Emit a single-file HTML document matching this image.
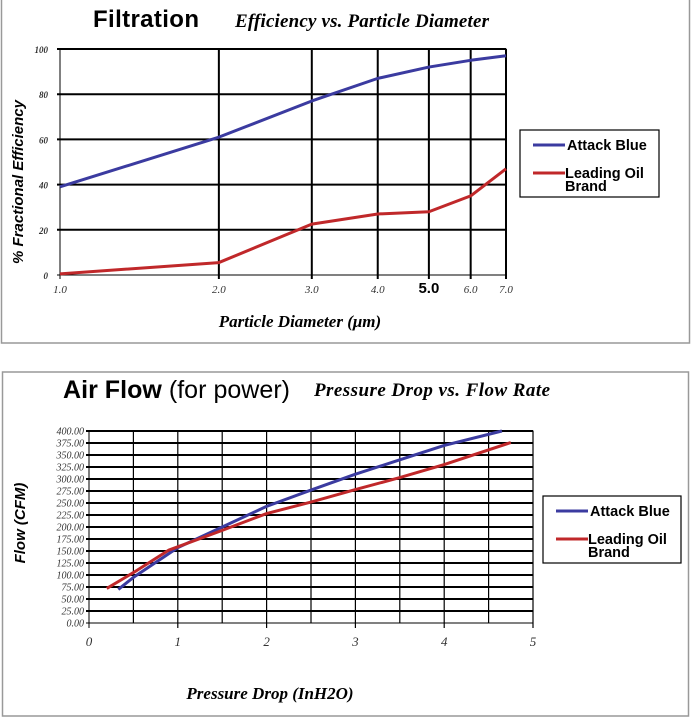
<!DOCTYPE html>
<html><head><meta charset="utf-8"><style>
body{margin:0;background:#fff;width:692px;height:719px;overflow:hidden}
svg{display:block}
.tk{font-family:"Liberation Serif",serif;font-style:italic;font-size:11px;fill:#333}
.ttl{font-family:"Liberation Serif",serif;font-style:italic;font-weight:bold;font-size:17px}
.lg{font-family:"Liberation Sans",sans-serif;font-weight:bold;font-size:14.5px}
</style></head><body>
<svg id="s" width="692" height="719">
<rect x="1.5" y="-2" width="688" height="345" fill="none" stroke="#999" stroke-width="1.5"/>
<rect x="2.5" y="372" width="686" height="344" fill="none" stroke="#999" stroke-width="1.5"/>
<text x="93" y="27" font-family="Liberation Sans,sans-serif" font-weight="bold" font-size="24" textLength="106">Filtration</text>
<text x="235" y="27" class="ttl" style="font-size:19px" textLength="254">Efficiency vs. Particle Diameter</text>
<text x="300" y="327" class="ttl" text-anchor="middle">Particle Diameter (μm)</text>
<text transform="translate(23,182) rotate(-90)" text-anchor="middle" font-family="Liberation Sans,sans-serif" font-style="italic" font-weight="bold" font-size="15">% Fractional Efficiency</text>
<text x="63" y="398" font-family="Liberation Sans,sans-serif" font-size="25" textLength="227"><tspan font-weight="bold">Air Flow</tspan> (for power)</text>
<text x="314" y="396" class="ttl" style="font-size:19px" textLength="236">Pressure Drop vs. Flow Rate</text>
<text x="270" y="699" class="ttl" font-size="14" text-anchor="middle">Pressure Drop (InH2O)</text>
<text transform="translate(25,523) rotate(-90)" text-anchor="middle" font-family="Liberation Sans,sans-serif" font-style="italic" font-weight="bold" font-size="15">Flow (CFM)</text>
<g id="c1"></g><g id="c2"></g>
</svg>
<script>
const fxVals=[1,2,3,4,5,6,7];
const fxLabels=["1.0","2.0","3.0","4.0","5.0","6.0","7.0"];
const fyTicks=[0,20,40,60,80,100];
const fBlue=[39,61,77,87,92,95,97];
const fRed=[0.5,5.5,22.5,27,28,35,47];
const axVals=[0,0.5,1,1.5,2,2.5,3,3.5,4,4.5,5];
const axLabels=["0","1","2","3","4","5"];
const ayTicks=[0,25,50,75,100,125,150,175,200,225,250,275,300,325,350,375,400];
const aBlueX=[0.33,0.5,1,1.5,2,2.5,3,3.5,4,4.65];
const aBlueY=[70,95,157,200,243,277,310,340,370,400];
const aRedX=[0.2,0.5,0.9,1.5,2,2.5,3,3.5,4,4.75];
const aRedY=[72,105,152,193,228,252,278,303,330,376];
const NS="http://www.w3.org/2000/svg";
function mk(p,t,a){const e=document.createElementNS(NS,t);for(const k in a)e.setAttribute(k,a[k]);p.appendChild(e);return e;}
const g1=document.getElementById('c1');
const L1=60,R1=506,T1=49,B1=275;
const fx=v=>L1+(R1-L1)*Math.log(v)/Math.log(7);
const fy=v=>B1-(B1-T1)*v/100;
mk(g1,'rect',{x:L1,y:T1,width:R1-L1,height:B1-T1,fill:'#fff',stroke:'#000','stroke-width':1});
fxVals.forEach((v,i)=>{
 const l=mk(g1,'line',{x1:fx(v),x2:fx(v),y1:T1,y2:B1+4,stroke:'#000','stroke-width':i==0?1:2});
 
 
 const t=mk(g1,'text',{x:fx(v),y:293,'text-anchor':'middle',class:'tk'});
 if(fxLabels[i]==="5.0"){t.setAttribute('style','font-family:Liberation Sans,sans-serif;font-style:normal;font-weight:bold;font-size:15px;fill:#000');}
 t.textContent=fxLabels[i];
 
 
});
fyTicks.forEach(v=>{
 const l=mk(g1,'line',{x1:L1-3,x2:R1,y1:fy(v),y2:fy(v),stroke:'#000','stroke-width':v==0?1:2});
 
 
 const t=mk(g1,'text',{x:L1-12,y:fy(v)+4,'text-anchor':'end',class:'tk'});
 t.setAttribute('style','font-size:9px;font-weight:bold');
 t.textContent=v;
 
 
});
function line(g,xs,ys,fxf,fyf,col,name){
 const p=mk(g,'polyline',{points:xs.map((x,i)=>fxf(x)+','+fyf(ys[i])).join(' '),fill:'none',stroke:col,'stroke-width':3,'stroke-linejoin':'round'});
 
 
}
line(g1,fxVals,fBlue,fx,fy,'#3b3ba0','filtration-attack-blue-line');
line(g1,fxVals,fRed,fx,fy,'#c0282a','filtration-leading-oil-line');
function legend(g,x,y,w,h,name){
 const r=mk(g,'rect',{x:x,y:y,width:w,height:h,fill:'#fff',stroke:'#000','stroke-width':1.2});
 
 
 mk(g,'line',{x1:x+13,x2:x+45,y1:y+15,y2:y+15,stroke:'#3b3ba0','stroke-width':3});
 const a=mk(g,'text',{x:x+47,y:y+20,class:'lg'});a.textContent='Attack Blue';
 
 
 mk(g,'line',{x1:x+13,x2:x+45,y1:y+43,y2:y+43,stroke:'#c0282a','stroke-width':3});
 const b=mk(g,'text',{x:x+45,y:y+48,class:'lg'});b.textContent='Leading Oil';
 
 
 const c=mk(g,'text',{x:x+45,y:y+61,class:'lg'});c.textContent='Brand';
 
 
}
legend(g1,520,130,139,67,'filtration-legend');
const g2=document.getElementById('c2');
const L2=89,R2=533,T2=431,B2=623;
const ax=v=>L2+(R2-L2)*v/5;
const ay=v=>B2-(B2-T2)*v/400;
mk(g2,'rect',{x:L2,y:T2,width:R2-L2,height:B2-T2,fill:'#fff',stroke:'#000','stroke-width':1});
ayTicks.forEach(v=>{
 const l=mk(g2,'line',{x1:L2-3,x2:R2,y1:ay(v),y2:ay(v),stroke:'#000','stroke-width':v==0?1:2});
 
 
 const t=mk(g2,'text',{x:L2-5,y:ay(v)+3.5,'text-anchor':'end',class:'tk'});
 t.setAttribute('style','font-size:10px');
 t.textContent=v.toFixed(2);
 
 
});
axVals.forEach(v=>{
 const l=mk(g2,'line',{x1:ax(v),x2:ax(v),y1:T2,y2:B2+(v%1==0?5:0),stroke:'#000','stroke-width':v==0?1:1.2});
 
 
});
axLabels.forEach((s,i)=>{
 const t=mk(g2,'text',{x:ax(i),y:646,'text-anchor':'middle',class:'tk'});
 t.setAttribute('style','font-size:13px');
 t.textContent=s;
 
 
});
line(g2,aBlueX,aBlueY,ax,ay,'#3b3ba0','airflow-attack-blue-line');
line(g2,aRedX,aRedY,ax,ay,'#c0282a','airflow-leading-oil-line');
legend(g2,543,496,138,67,'airflow-legend');
</script>
</body></html>
